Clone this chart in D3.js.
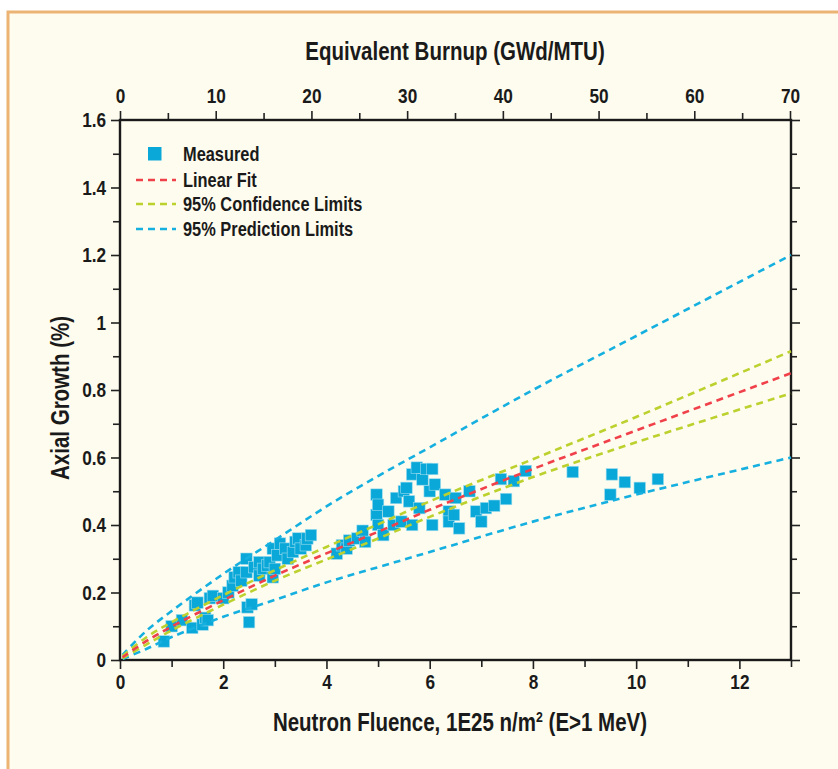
<!DOCTYPE html>
<html><head><meta charset="utf-8">
<script src="https://cdn.jsdelivr.net/npm/d3@7"></script>
<style>body{margin:0;background:#fff}svg{display:block}</style></head>
<body>
<svg id="c" width="838" height="769"></svg>
<script>
// ---- data ----
const fluence = [0.85,1.0,1.2,1.4,1.45,1.5,1.6,1.65,1.7,1.74,1.8,2.0,2.1,2.18,2.22,2.3,2.35,2.45,2.45,2.47,2.5,2.55,2.6,2.7,2.7,2.77,2.85,2.9,2.96,2.96,3.0,3.05,3.1,3.2,3.25,3.35,3.4,3.45,3.5,3.6,3.63,3.7,
  4.2,4.3,4.39,4.44,4.6,4.7,4.75,4.97,4.97,5.0,5.0,5.1,5.2,5.3,5.35,5.45,5.5,5.55,5.6,5.66,5.66,5.75,5.8,5.86,5.93,6.0,6.05,6.1,6.05,6.3,6.37,6.37,6.47,6.5,6.57,6.77,6.9,7.0,7.09,7.25,7.38,7.48,7.63,7.86,8.77,9.5,9.53,9.78,10.07,10.42];
const growth = [0.055,0.10,0.118,0.095,0.162,0.17,0.105,0.125,0.118,0.183,0.19,0.183,0.20,0.22,0.245,0.26,0.235,0.26,0.30,0.156,0.112,0.165,0.275,0.29,0.25,0.27,0.28,0.29,0.33,0.245,0.27,0.31,0.345,0.33,0.30,0.32,0.35,0.36,0.33,0.34,0.36,0.37,
  0.315,0.34,0.33,0.354,0.36,0.383,0.35,0.43,0.49,0.46,0.40,0.37,0.44,0.40,0.48,0.41,0.50,0.51,0.47,0.55,0.40,0.57,0.45,0.535,0.566,0.50,0.40,0.52,0.566,0.49,0.44,0.41,0.43,0.48,0.39,0.50,0.44,0.41,0.45,0.457,0.536,0.477,0.53,0.56,0.557,0.49,0.55,0.527,0.51,0.536];

const curveX     = [0.05,0.5,1,2,3,4,5,6,8,10,13];
const linearFit  = [0.008,0.055,0.099,0.177,0.25,0.316,0.38,0.445,0.566,0.68,0.85];
const confUpper  = [0.012,0.066,0.112,0.192,0.266,0.335,0.402,0.47,0.595,0.72,0.915];
const confLower  = [0.005,0.045,0.088,0.164,0.235,0.298,0.36,0.424,0.542,0.645,0.79];
const predUpper  = [0.015,0.085,0.145,0.255,0.355,0.455,0.545,0.63,0.80,0.96,1.20];
const predLower  = [0.003,0.032,0.068,0.128,0.178,0.23,0.275,0.32,0.41,0.49,0.60];

const xTicks = [0,2,4,6,8,10,12];
const xMinor = [1,3,5,7,9,11,13];
const yTicks = [0,0.2,0.4,0.6,0.8,1,1.2,1.4,1.6];
const yMinor = [0.1,0.3,0.5,0.7,0.9,1.1,1.3,1.5];
const burnupTicks = [0,10,20,30,40,50,60,70];
const burnupMinor = [5,15,25,35,45,55,65];

const legendLabels = ["Measured","Linear Fit","95% Confidence Limits","95% Prediction Limits"];

// ---- layout ----
const L=120, R=791, T=120, B=660;
const FONT = "'Liberation Sans',Arial,sans-serif";
const SX = 0.82;   // condensed look
const C_MARK="#0aa8d8", C_FIT="#f0414b", C_CONF="#bdd12e", C_PRED="#16b0e0";

const svg = d3.select("#c");
svg.append("rect").attr("x",0).attr("y",0).attr("width",838).attr("height",769).attr("fill","#ffffff");
svg.append("rect").attr("x",8).attr("y",12).attr("width",840).attr("height",770)
   .attr("fill","#fefcee").attr("stroke","#ebb474").attr("stroke-width",3);

const x = d3.scaleLinear().domain([0,13]).range([L,R]);
const y = d3.scaleLinear().domain([0,1.6]).range([B,T]);
const xb = d3.scaleLinear().domain([0,70]).range([L,R-1]);

function styleAxis(g){
  g.select(".domain").remove();
  g.selectAll("line").attr("stroke","#222").attr("stroke-width",1.6);
  g.selectAll("text").attr("font-family",FONT).attr("font-weight","bold").attr("font-size","21px")
    .attr("fill","#1a1a1a").attr("transform",`scale(${SX},1)`);
}
// bottom
svg.append("g").attr("transform",`translate(0,${B})`).call(d3.axisBottom(x).tickValues(xTicks).tickSize(9).tickPadding(5).tickFormat(d3.format("d"))).call(styleAxis);
svg.append("g").attr("transform",`translate(0,${B})`).call(d3.axisBottom(x).tickValues(xMinor).tickSize(7).tickFormat("")).call(styleAxis);
// left
svg.append("g").attr("transform",`translate(${L},0)`).call(d3.axisLeft(y).tickValues(yTicks).tickSize(9).tickPadding(8).tickFormat(d=>String(+d.toFixed(1)))).call(styleAxis);
svg.append("g").attr("transform",`translate(${L},0)`).call(d3.axisLeft(y).tickValues(yMinor).tickSize(7).tickFormat("")).call(styleAxis);
// right
svg.append("g").attr("transform",`translate(${R},0)`).call(d3.axisRight(y).tickValues(yTicks).tickSize(9).tickFormat("")).call(styleAxis);
svg.append("g").attr("transform",`translate(${R},0)`).call(d3.axisRight(y).tickValues(yMinor).tickSize(6).tickFormat("")).call(styleAxis);
// top
svg.append("g").attr("transform",`translate(0,${T})`).call(d3.axisTop(xb).tickValues(burnupTicks).tickSize(9).tickPadding(8).tickFormat(d3.format("d"))).call(styleAxis);
svg.append("g").attr("transform",`translate(0,${T})`).call(d3.axisTop(xb).tickValues(burnupMinor).tickSize(7).tickFormat("")).call(styleAxis);

// frame
svg.append("rect").attr("x",L).attr("y",T).attr("width",R-L).attr("height",B-T)
   .attr("fill","none").attr("stroke","#1a1a1a").attr("stroke-width",2.4);

// clip
svg.append("clipPath").attr("id","pc").append("rect").attr("x",L).attr("y",T).attr("width",R-L+2).attr("height",B-T);

// points
const pts = fluence.map((f,i)=>({f, g:growth[i]}));
const S=11.5;
svg.append("g").selectAll("rect").data(pts).join("rect")
  .attr("x",d=>x(d.f)-S/2).attr("y",d=>y(d.g)-S/2).attr("width",S).attr("height",S)
  .attr("fill",C_MARK).attr("stroke","#9fdcef").attr("stroke-width",0.6);

// curves
const line = d3.line().x(d=>x(d[0])).y(d=>y(d[1])).curve(d3.curveCatmullRom.alpha(0.5));
const curves = [[predUpper,C_PRED],[predLower,C_PRED],[confUpper,C_CONF],[confLower,C_CONF],[linearFit,C_FIT]];
const cg = svg.append("g").attr("clip-path","url(#pc)");
curves.forEach(([vals,col])=>{
  cg.append("path").attr("d",line(curveX.map((cx,i)=>[cx,vals[i]])))
    .attr("fill","none").attr("stroke",col).attr("stroke-width",2.6).attr("stroke-dasharray","7,5");
});

function label(px,py,size,anchor,rot){
  return svg.append("text")
    .attr("transform",`translate(${px},${py})${rot?` rotate(${rot})`:""} scale(${SX},1)`)
    .attr("text-anchor",anchor).attr("font-family",FONT).attr("font-weight","bold")
    .attr("font-size",size+"px").attr("fill","#1a1a1a");
}

// legend
svg.append("rect").attr("x",148).attr("y",147).attr("width",13.5).attr("height",13.5).attr("fill",C_MARK);
const legendY=[154,180,204,229];
const legendCols=[null,C_FIT,C_CONF,C_PRED];
legendLabels.forEach((t,i)=>{
  if(i>0) svg.append("line").attr("x1",136).attr("x2",176).attr("y1",legendY[i]).attr("y2",legendY[i])
            .attr("stroke",legendCols[i]).attr("stroke-width",2.4).attr("stroke-dasharray","7,5");
  label(183,legendY[i]+7,20,"start").text(t);
});

// titles
label(455,60,25,"middle").text("Equivalent Burnup (GWd/MTU)");
const xt = label(460,731,25,"middle");
xt.append("tspan").text("Neutron Fluence, 1E25 n/m");
xt.append("tspan").attr("font-size","15px").attr("dy","-9").text("2");
xt.append("tspan").attr("dy","9").text(" (E>1 MeV)");
label(69,398,25,"middle",-90).text("Axial Growth (%)");
</script>
</body></html>
